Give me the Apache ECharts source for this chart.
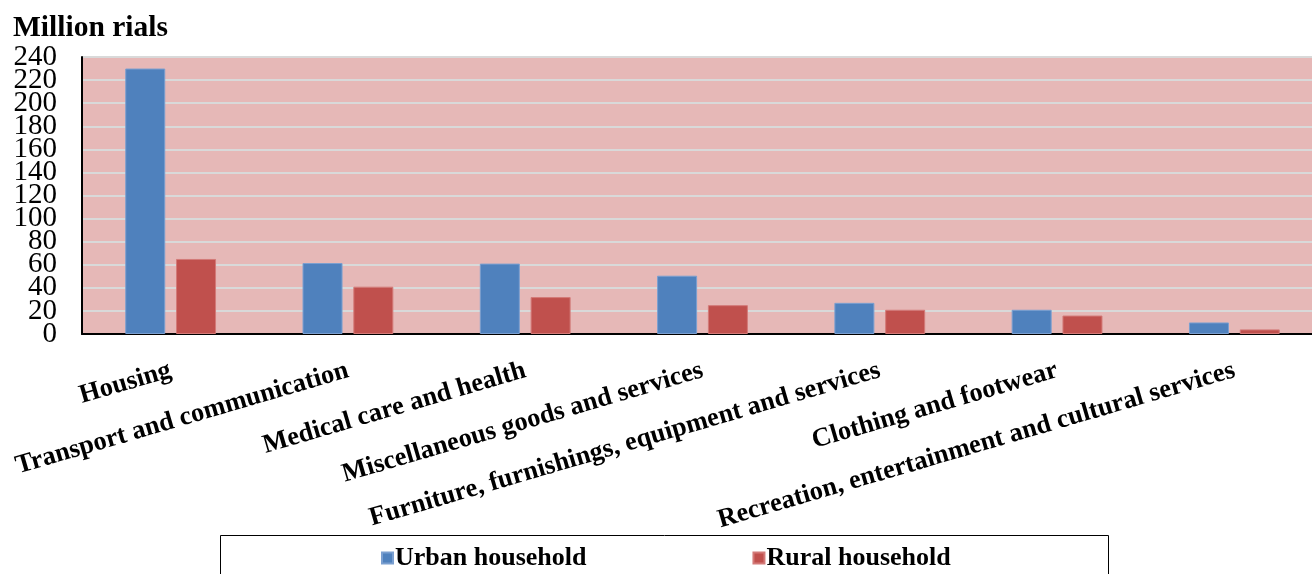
<!DOCTYPE html>
<html><head><meta charset="utf-8">
<script src="https://cdn.jsdelivr.net/npm/echarts@6/dist/echarts.min.js"></script>
<style>html,body{margin:0;padding:0;background:#fff}#c{width:1312px;height:574px}</style>
</head><body><div id="c"></div>
<script>
const categories = ['Housing','Transport and communication','Medical care and health','Miscellaneous goods and services','Furniture, furnishings, equipment and services','Clothing and footwear','Recreation, entertainment and cultural services'];
const urban = [230, 61.5, 61, 50.5, 27, 21, 10];
const rural = [65, 41, 32, 25, 21, 16, 4];
const yTicks = {min: 0, max: 240, interval: 20};
const FONT = '"Liberation Serif", "Times New Roman", serif';
const yLabelStyle = {margin: 25, fontFamily: FONT, fontSize: 29, color: '#000', lineHeight: 18, showMinLabel: true, showMaxLabel: true};
const chart = echarts.init(document.getElementById('c'));
chart.setOption({
  animation: false,
  title: {text: 'Million rials', left: 8, top: 8, textStyle: {fontFamily: FONT, fontWeight: 'bold', fontSize: 29.5, color: '#000'}},
  grid: {left: 82, right: -11, top: 57, bottom: 240, show: true, backgroundColor: '#e6b8b7', borderWidth: 0, containLabel: false, outerBoundsMode: 'none'},
  legend: {
    left: 376, top: 540, itemWidth: 11, itemHeight: 11, itemGap: 166,
    icon: 'rect',
    textStyle: {fontFamily: FONT, fontWeight: 'bold', fontSize: 26, color: '#000', padding: [0,0,0,-3]},
    data: ['Urban household','Rural household']
  },
  graphic: [{type: 'rect', shape: {x: 220.5, y: 535.5, width: 888, height: 60}, style: {fill: 'none', stroke: '#000', lineWidth: 1}}],
  xAxis: {
    type: 'category', data: categories,
    axisLine: {lineStyle: {color: '#000', width: 2}},
    axisTick: {show: false},
    axisLabel: {interval: 0, rotate: 16.3, margin: 36, fontFamily: FONT, fontWeight: 'bold', fontSize: 26.5, color: '#000'}
  },
  yAxis: [{
    type: 'value', min: yTicks.min, max: yTicks.max, interval: yTicks.interval,
    axisLine: {show: true, lineStyle: {color: '#000', width: 2}},
    axisTick: {show: false},
    splitLine: {lineStyle: {color: '#d9d9d9', width: 2}},
    axisLabel: Object.assign({}, yLabelStyle, {formatter: v => (v % 40 === 0 ? String(v) : '')})
  }, {
    type: 'value', position: 'left', min: yTicks.min, max: yTicks.max, interval: yTicks.interval,
    axisLine: {show: false}, axisTick: {show: false}, splitLine: {show: false},
    axisLabel: Object.assign({}, yLabelStyle, {formatter: v => (v % 40 === 20 ? String(v) : '')})
  }],
  series: [
    {name: 'Urban household', type: 'bar', data: urban, barWidth: 40, barGap: '27%', itemStyle: {color: '#4f81bd', borderColor: '#7a9fd0', borderWidth: 1}},
    {name: 'Rural household', type: 'bar', data: rural, barWidth: 40, itemStyle: {color: '#c0504d', borderColor: '#d37a78', borderWidth: 1}}
  ]
});
</script></body></html>
